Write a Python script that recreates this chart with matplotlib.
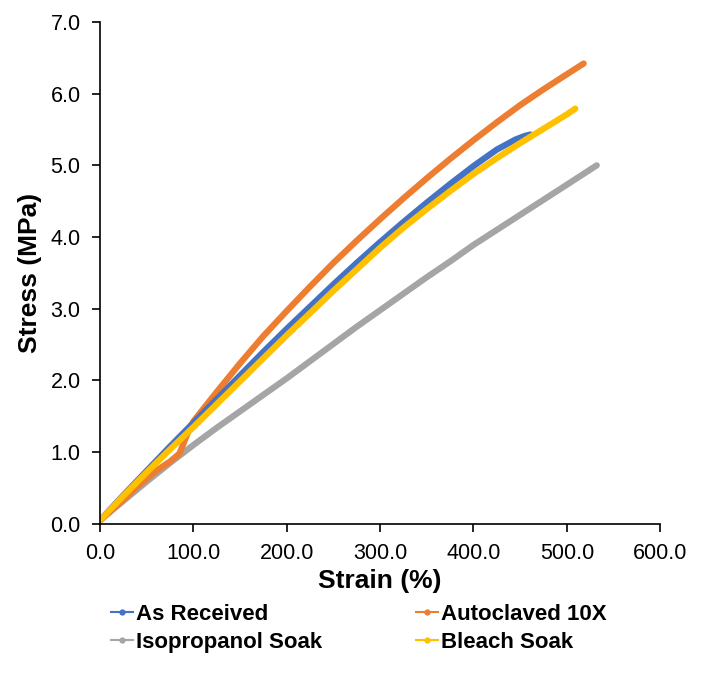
import matplotlib.pyplot as plt
import numpy as np

plt.rcParams["font.family"] = ["Liberation Sans", "DejaVu Sans"]

# strain (%) / stress (MPa)
as_received_x = [0, 25, 50, 75, 100, 125, 150, 175, 200, 225, 250, 275, 300,
                 325, 350, 375, 400, 425, 445, 455, 461]
as_received_y = [0.05, 0.40, 0.74, 1.08, 1.41, 1.74, 2.07, 2.40, 2.72, 3.03, 3.34, 3.64, 3.93,
                 4.21, 4.48, 4.74, 4.99, 5.22, 5.36, 5.41, 5.43]

autoclaved_x = [0, 20, 40, 60, 75, 85, 95, 100, 125, 150, 175, 200, 225, 250, 275, 300,
                325, 350, 375, 400, 425, 450, 475, 500, 518]
autoclaved_y = [0.05, 0.28, 0.52, 0.74, 0.87, 0.98, 1.30, 1.43, 1.84, 2.24, 2.62, 2.97, 3.31, 3.64, 3.95, 4.25,
                4.54, 4.82, 5.09, 5.35, 5.60, 5.84, 6.06, 6.27, 6.42]

isopropanol_x = [0, 25, 50, 75, 100, 125, 150, 175, 200, 225, 250, 275, 300,
                 325, 350, 375, 400, 425, 450, 475, 500, 532]
isopropanol_y = [0.05, 0.32, 0.59, 0.85, 1.10, 1.34, 1.57, 1.80, 2.03, 2.27, 2.51, 2.75, 2.98,
                 3.21, 3.44, 3.66, 3.89, 4.10, 4.31, 4.52, 4.73, 5.00]

bleach_x = [0, 25, 50, 75, 100, 125, 150, 175, 200, 225, 250, 275, 300,
            325, 350, 375, 400, 425, 450, 475, 500, 509]
bleach_y = [0.05, 0.39, 0.72, 1.04, 1.35, 1.67, 1.99, 2.31, 2.63, 2.94, 3.25, 3.55, 3.85,
            4.13, 4.39, 4.64, 4.88, 5.10, 5.31, 5.51, 5.71, 5.79]

labels = ["As Received", "Autoclaved 10X", "Isopropanol Soak", "Bleach Soak"]
colors = ["#4472C4", "#ED7D31", "#A5A5A5", "#FFC000"]

fig = plt.figure(figsize=(7.02, 6.76), dpi=100)
ax = fig.add_axes([0.1425, 0.225, 0.798, 0.7426])

series = [(as_received_x, as_received_y), (autoclaved_x, autoclaved_y),
          (isopropanol_x, isopropanol_y), (bleach_x, bleach_y)]
handles = [None] * 4
for i in [2, 1, 0, 3]:
    x, y = series[i]
    ax.plot(x, y, color=colors[i], lw=4.5, solid_capstyle="round", solid_joinstyle="round")
    handles[i], = ax.plot([], [], color=colors[i], lw=1.5, marker="o", ms=3.5, label=labels[i])

ticks_x = np.arange(0, 601, 100)
ticks_y = np.arange(0, 7.01, 1)
ax.set_xlim(0, 600)
ax.set_ylim(0, 7)
ax.set_xticks(ticks_x)
ax.set_yticks(ticks_y)
ax.set_xticklabels([f"{v:.1f}" for v in ticks_x])
ax.set_yticklabels([f"{v:.1f}" for v in ticks_y])
ax.tick_params(labelsize=15.5, length=6, width=1.2, direction="out", colors="black")
ax.tick_params(axis="x", pad=8)
ax.tick_params(axis="y", pad=8)
for s in ["top", "right"]:
    ax.spines[s].set_visible(False)
for s in ["left", "bottom"]:
    ax.spines[s].set_linewidth(1.2)

ax.set_xlabel("Strain (%)", fontsize=19, fontweight="bold", labelpad=3)
ax.set_ylabel("Stress (MPa)", fontsize=19, fontweight="bold", labelpad=6)

# column-major fill: put the pairs so the rows read like the reference
leg_order = [0, 2, 1, 3]
fig.legend(handles=[handles[i] for i in leg_order], loc="upper left",
           bbox_to_anchor=(0.158, 0.107), ncol=2, frameon=False,
           prop={"size": 16, "weight": "bold"}, handlelength=1.0,
           handletextpad=0.15, columnspacing=4.2, labelspacing=0.33,
           borderaxespad=0, borderpad=0)

fig.savefig("out.png", dpi=100)
